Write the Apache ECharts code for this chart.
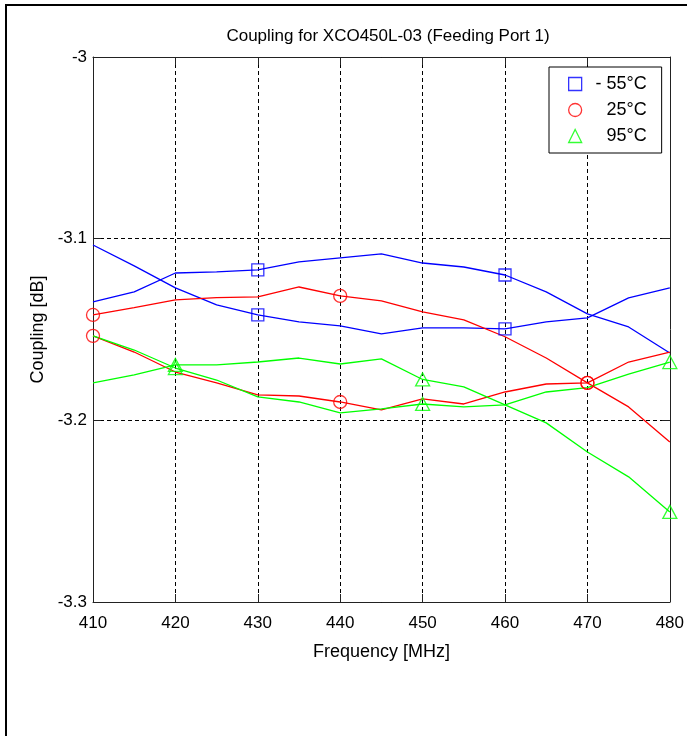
<!DOCTYPE html>
<html>
<head>
<meta charset="utf-8">
<script src="https://cdn.jsdelivr.net/npm/echarts@6/dist/echarts.min.js"></script>
<style>
html,body{margin:0;padding:0;background:#fff;}
#chart{width:687px;height:736px;}
</style>
</head>
<body>
<div id="chart"></div>
<script>
// Frequencies (MHz)
var freq = [410,415,420,425,430,435,440,445,450,455,460,465,470,475,480];
// -55 °C (two traces)
var coldA = [-3.1035,-3.1150,-3.1271,-3.1365,-3.1420,-3.1458,-3.1480,-3.1524,-3.1491,-3.1491,-3.1497,-3.1458,-3.1436,-3.1326,-3.1271];
var coldB = [-3.1348,-3.1293,-3.1189,-3.1183,-3.1172,-3.1128,-3.1106,-3.1084,-3.1134,-3.1156,-3.1200,-3.1293,-3.1414,-3.1486,-3.1629];
// 25 °C (two traces)
var roomA = [-3.1420,-3.1380,-3.1337,-3.1325,-3.1320,-3.1266,-3.1315,-3.1343,-3.1403,-3.1447,-3.1540,-3.1657,-3.1794,-3.1926,-3.2119];
var roomB = [-3.1535,-3.1624,-3.1734,-3.1794,-3.1860,-3.1866,-3.1899,-3.1943,-3.1882,-3.1910,-3.1844,-3.1800,-3.1794,-3.1679,-3.1624];
// 95 °C (two traces)
var hotA = [-3.1794,-3.1750,-3.1695,-3.1695,-3.1679,-3.1657,-3.1690,-3.1662,-3.1775,-3.1816,-3.1915,-3.2014,-3.2174,-3.2311,-3.2504];
var hotB = [-3.1535,-3.1613,-3.1712,-3.1778,-3.1871,-3.1899,-3.1959,-3.1937,-3.1910,-3.1926,-3.1915,-3.1844,-3.1820,-3.1745,-3.1679];
// marker frequencies
var coldMarks = [430,460];
var roomMarks = [410,440,470];
var hotMarks = [420,450,480];
var legendNames = ['- 55°C','25°C','95°C'];
var title = 'Coupling for XCO450L-03 (Feeding Port 1)';
var xName = 'Frequency [MHz]';
var yName = 'Coupling [dB]';

var FONT = "'Liberation Sans Narrow','Liberation Sans',Arial,sans-serif";
var BLUE = '#0000ff', RED = '#ff0000', GREEN = '#00ff00';

function pairs(arr){ return freq.map(function(f,i){ return [f, arr[i]]; }); }
function marks(arrs, fs){
  var out = [];
  arrs.forEach(function(a){
    fs.forEach(function(f){ var i = freq.indexOf(f); out.push([f, a[i]]); });
  });
  return out;
}
function line(name, arr, color){
  return {type:'line', name:name, data:pairs(arr), showSymbol:false, symbol:'none',
    lineStyle:{color:color, width:1.3}, itemStyle:{color:color}, z:2, animation:false};
}
function scat(name, data, color, symbol, size){
  return {type:'scatter', name:name, data:data, symbol:symbol, symbolSize:size,
    itemStyle:{color:'rgba(0,0,0,0)', borderColor:color, borderWidth:1.3}, z:4, animation:false};
}

var chart = echarts.init(document.getElementById('chart'));
chart.setOption({
  backgroundColor:'#fff',
  animation:false,
  textStyle:{fontFamily:FONT},
  title:{text:title, left:383, top:23, textAlign:'center',
    textStyle:{fontFamily:FONT, fontSize:17, fontWeight:'normal', color:'#000'}},
  graphic:[{type:'rect', shape:{x:6, y:5, width:760, height:800},
    style:{fill:'none', stroke:'#000', lineWidth:2}, silent:true, z:100}],
  grid:{left:93, right:17, top:57, bottom:134, show:false},
  legend:{
    orient:'vertical', left:549, top:67,
    padding:[8,15,8,19], itemGap:8, itemWidth:13, itemHeight:13,
    borderColor:'#000', borderWidth:1, backgroundColor:'#fff',
    formatter:function(n){ return '{r|'+n+'}'; },
    textStyle:{fontFamily:FONT, fontSize:18, color:'#000',
      rich:{r:{width:60, align:'right', fontFamily:FONT, fontSize:18, color:'#000'}}},
    data:[
      {name:legendNames[0], icon:'rect', itemStyle:{color:'rgba(0,0,0,0)', borderColor:BLUE, borderWidth:1.3}},
      {name:legendNames[1], icon:'circle', itemStyle:{color:'rgba(0,0,0,0)', borderColor:RED, borderWidth:1.3}},
      {name:legendNames[2], icon:'triangle', itemStyle:{color:'rgba(0,0,0,0)', borderColor:GREEN, borderWidth:1.3}}
    ]
  },
  xAxis:[{
    type:'value', min:410, max:480, interval:10, position:'bottom',
    name:xName, nameLocation:'middle', nameGap:41,
    nameTextStyle:{fontFamily:FONT, fontSize:18, color:'#000'},
    axisLine:{show:true, lineStyle:{color:'#222', width:1}},
    axisTick:{show:true, inside:true, length:8, lineStyle:{color:'#222'}},
    axisLabel:{fontFamily:FONT, fontSize:17, color:'#000', margin:13},
    splitLine:{show:true, lineStyle:{color:'#000', type:[4,3], width:1}}
  },{
    type:'value', min:410, max:480, interval:10, position:'top',
    axisLine:{show:true, lineStyle:{color:'#222', width:1}},
    axisTick:{show:true, inside:true, length:8, lineStyle:{color:'#222'}},
    axisLabel:{show:false}, splitLine:{show:false}
  }],
  yAxis:[{
    type:'value', min:-3.3, max:-3, interval:0.1, position:'left',
    name:yName, nameLocation:'middle', nameGap:44,
    nameTextStyle:{fontFamily:FONT, fontSize:18, color:'#000'},
    axisLine:{show:true, lineStyle:{color:'#222', width:1}},
    axisTick:{show:true, inside:true, length:8, lineStyle:{color:'#222'}},
    axisLabel:{fontFamily:FONT, fontSize:17, color:'#000', margin:6},
    splitLine:{show:true, lineStyle:{color:'#000', type:[4,3], width:1}}
  },{
    type:'value', min:-3.3, max:-3, interval:0.1, position:'right',
    axisLine:{show:true, lineStyle:{color:'#222', width:1}},
    axisTick:{show:true, inside:true, length:8, lineStyle:{color:'#222'}},
    axisLabel:{show:false}, splitLine:{show:false}
  }],
  series:[
    line('cold A', coldA, BLUE),
    line('cold B', coldB, BLUE),
    line('room A', roomA, RED),
    line('room B', roomB, RED),
    line('hot A', hotA, GREEN),
    line('hot B', hotB, GREEN),
    scat(legendNames[0], marks([coldA, coldB], coldMarks), BLUE, 'rect', 12),
    scat(legendNames[1], marks([roomA, roomB], roomMarks), RED, 'circle', 13),
    scat(legendNames[2], marks([hotA, hotB], hotMarks), GREEN, 'triangle', [14,13])
  ]
});
</script>
</body>
</html>
